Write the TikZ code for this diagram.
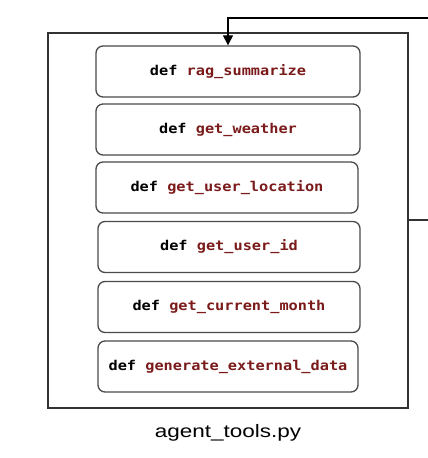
\documentclass[tikz,border=0pt]{standalone}
\usepackage{fontspec}
\usepackage{xcolor}
\usepackage{tikz}
\usetikzlibrary{arrows.meta}
\setmainfont{Liberation Sans}[FakeStretch=1.25]
\newfontfamily\codefont{DejaVu Sans Mono}[FakeStretch=1.13]
\definecolor{rosso}{HTML}{7A1A1A}
\definecolor{bordo}{HTML}{4A4A4A}

\tikzset{
  fnbox/.style={draw=bordo, line width=1.3pt, rounded corners=7pt,
    minimum height=51pt, font=\codefont\bfseries\fontsize{13.5}{15}\selectfont},
  fname/.style={color=rosso}
}
\newcommand{\fn}[1]{def \textcolor{rosso}{#1}}

\begin{document}
\begin{tikzpicture}[x=1pt, y=-1pt]
    \useasboundingbox (0,0) rectangle (428,458);
    % contenitore
    \node[draw=black!80, line width=1.1pt, minimum width=360pt, minimum height=375pt,
      inner sep=0pt] (file) at (228,220.5) {};
    % funzioni
    \node[fnbox, minimum width=264pt] (rag)      at (228,71.5)  {\fn{rag\_summarize}};
    \node[fnbox, minimum width=264pt] (weather)  at (228,129.5) {\fn{get\_weather}};
    \node[fnbox, minimum width=262pt] (location) at (227,187.5) {\fn{get\_user\_location}};
    \node[fnbox, minimum width=262pt] (userid)   at (229,247)   {\fn{get\_user\_id}};
    \node[fnbox, minimum width=262pt] (month)    at (229,307)   {\fn{get\_current\_month}};
    \node[fnbox, minimum width=260pt] (external) at (228,366.5) {\fn{generate\_external\_data}};
    % nome del file
    \node[font=\fontsize{18}{20}\selectfont] (filename) at (228,433) {agent\_tools.py};
    % collegamenti
    \coordinate (ingresso) at (428,18);
    \coordinate (uscita) at (428,220);
    \draw[line width=1.1pt, -{Triangle[length=10pt, width=10pt]}] (ingresso) -| (rag.north);
    \draw[line width=1.1pt, black!80] (file.east |- uscita) -- (uscita);
\end{tikzpicture}
\end{document}
